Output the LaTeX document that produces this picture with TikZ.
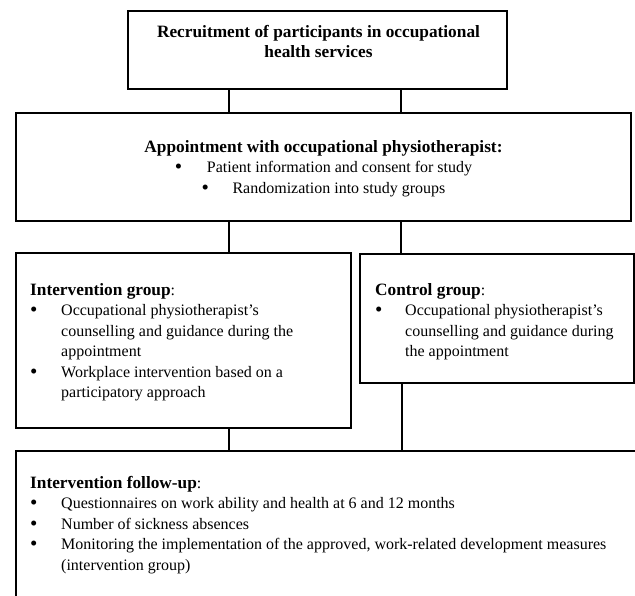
\documentclass[tikz,border=0pt]{standalone}
\usepackage{fontspec}
\setmainfont{Liberation Serif}
\newcommand{\bigbul}{\raisebox{-1.2pt}{\fontsize{21}{20}\selectfont\textbullet}}
\newcommand{\ttl}[1]{{\fontsize{17.3}{20.5}\selectfont\bfseries #1}}
\begin{document}
\begin{tikzpicture}[x=1pt,y=-1pt,
  box/.style={draw, line width=1.2pt, rectangle, inner sep=0pt},
  conn/.style={draw, line width=1.8pt},
  txt/.style={inner sep=0pt, font=\fontsize{16}{20.5}\selectfont}]
\useasboundingbox (0,0) rectangle (635,595);
\clip (0,0) rectangle (635,595);
% boxes
\node[box, minimum width=379pt, minimum height=78pt] (top) at (317.5,50) {};
\node[box, minimum width=615pt, minimum height=108pt] (appt) at (323.5,167) {};
\node[box, minimum width=335pt, minimum height=175pt] (interv) at (183.5,340.5) {};
\node[box, minimum width=274pt, minimum height=129pt] (ctrl) at (497,318.5) {};
\node[box, minimum width=644pt, minimum height=169pt] (follow) at (338,535.5) {};
% connector x positions
\coordinate (cL) at (229,0);
\coordinate (cR) at (401,0);
\coordinate (cR2) at (402,0);
\draw[conn] (top.south -| cL) -- (appt.north -| cL);
\draw[conn] (top.south -| cR) -- (appt.north -| cR);
\draw[conn] (appt.south -| cL) -- (interv.north -| cL);
\draw[conn] (appt.south -| cR) -- (ctrl.north -| cR);
\draw[conn] (interv.south -| cL) -- (follow.north -| cL);
\draw[conn] (ctrl.south -| cR2) -- (follow.north -| cR2);
% texts
\node[txt, anchor=base] (ttop) at (318.5,37) {\begin{tabular}[t]{@{}c@{}}\ttl{Recruitment of participants in occupational}\\ \ttl{health services}\end{tabular}};
\node[txt, anchor=base] (tappt) at (323.5,152) {\begin{tabular}[t]{@{}c@{}}\ttl{Appointment with occupational physiotherapist:}\\
\makebox[32pt][l]{\bigbul}Patient information and consent for study\\
\makebox[31pt][l]{\bigbul}Randomization into study groups\end{tabular}};
\node[txt, anchor=base west] (tinterv) at (30,295) {\begin{tabular}[t]{@{}l@{}l@{}}
\multicolumn{2}{@{}l@{}}{\ttl{Intervention group}:}\\
\makebox[31pt][l]{\bigbul} & Occupational physiotherapist’s\\
 & counselling and guidance during the\\
 & appointment\\
\makebox[31pt][l]{\bigbul} & Workplace intervention based on a\\
 & participatory approach\end{tabular}};
\node[txt, anchor=base west] (tctrl) at (375,295) {\begin{tabular}[t]{@{}l@{}l@{}}
\multicolumn{2}{@{}l@{}}{\ttl{Control group}:}\\
\makebox[30pt][l]{\bigbul} & Occupational physiotherapist’s\\
 & counselling and guidance during\\
 & the appointment\end{tabular}};
\node[txt, anchor=base west] (tfollow) at (30,488) {\begin{tabular}[t]{@{}l@{}l@{}}
\multicolumn{2}{@{}l@{}}{\ttl{Intervention follow-up}:}\\
\makebox[31pt][l]{\bigbul} & Questionnaires on work ability and health at 6 and 12 months\\
\makebox[31pt][l]{\bigbul} & Number of sickness absences\\
\makebox[31pt][l]{\bigbul} & Monitoring the implementation of the approved, work-related development measures\\
 & (intervention group)\end{tabular}};
\end{tikzpicture}
\end{document}
